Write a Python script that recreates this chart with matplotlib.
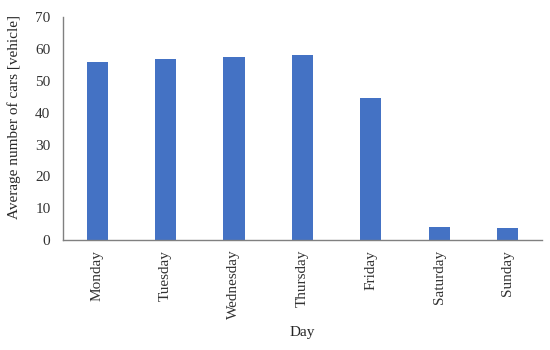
import matplotlib
matplotlib.use("Agg")
import matplotlib.pyplot as plt

days = ["Monday", "Tuesday", "Wednesday", "Thursday", "Friday", "Saturday", "Sunday"]
avg_cars = [55.8, 57.0, 57.5, 58.0, 44.5, 4.1, 3.7]

plt.rcParams['font.family'] = ['Liberation Serif', 'DejaVu Serif']

fig = plt.figure(figsize=(5.5, 3.5), dpi=100)
ax = fig.add_axes([0.1145, 0.314, 0.8705, 0.637])

ax.bar(range(len(days)), avg_cars, width=0.31, color='#4472C4')

ax.set_xlim(-0.5, len(days) - 0.5)
ax.set_ylim(0, 70)
ax.set_yticks(range(0, 71, 10))
ax.set_xticks(range(len(days)))
ax.set_xticklabels(days, rotation=90)
ax.tick_params(axis='both', length=0, labelsize=11, colors='#333333')
ax.tick_params(axis='x', pad=7)
ax.tick_params(axis='y', pad=9)

for side in ['top', 'right']:
    ax.spines[side].set_visible(False)
for side in ['left', 'bottom']:
    ax.spines[side].set_color('#808080')
    ax.spines[side].set_linewidth(1.0)

ax.set_ylabel('Average number of cars [vehicle]', fontsize=11, color='#262626')
ax.yaxis.set_label_coords(-0.088, 0.55)
ax.set_xlabel('Day', fontsize=11, color='#262626', labelpad=5)

fig.savefig('out.png', dpi=100)
